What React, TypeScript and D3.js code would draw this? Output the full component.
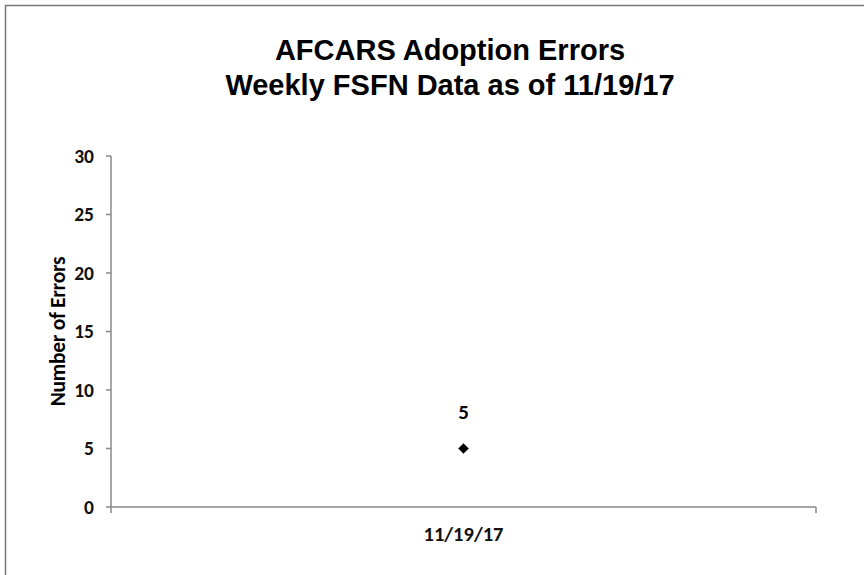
import React from "react";
import * as d3 from "d3";

// chart data
const categories = ["11/19/17"];
const errorCounts = [5];
const yTicks = [0, 5, 10, 15, 20, 25, 30];
const titleLines = ["AFCARS Adoption Errors", "Weekly FSFN Data as of 11/19/17"];

export default function App() {
    const width = 864;
    const height = 575;
    const plot = { left: 111, right: 816, top: 156, bottom: 507 };

    const x = d3.scaleBand().domain(categories).range([plot.left, plot.right]);
    const y = d3.scaleLinear().domain([0, 30]).range([plot.bottom, plot.top]);
    // square turned 45deg so the marker looks like Excel's diamond
    const marker = d3.symbol().type(d3.symbolSquare).size(52)();

    const axisColor = "#888";
    const labelFont = "Carlito, Calibri, Lato, sans-serif";

    return (
        <svg
            width={width}
            height={height}
            style={{ position: "absolute", left: 0, top: 0, background: "#fff" }}
        >
            {/* outer frame */}
            <rect x={5.5} y={5.5} width={width + 10} height={height + 10} fill="none" stroke="#777" strokeWidth={1.5} />

            {/* title */}
            {titleLines.map((t, i) => (
                <text
                    key={t}
                    x={450}
                    y={60 + i * 35}
                    textAnchor="middle"
                    fontFamily="Arial, 'Liberation Sans', sans-serif"
                    fontWeight="bold"
                    fontSize={29}
                    fill="#000"
                >
                    {t}
                </text>
            ))}

            {/* y axis */}
            <line x1={plot.left} x2={plot.left} y1={plot.top} y2={plot.bottom} stroke={axisColor} strokeWidth={1.5} />
            {yTicks.map((t) => (
                <g key={t}>
                    <line x1={plot.left - 5} x2={plot.left} y1={y(t)} y2={y(t)} stroke={axisColor} strokeWidth={1.5} />
                    <text
                        x={94}
                        y={y(t)}
                        dy="0.35em"
                        textAnchor="end"
                        fontFamily={labelFont}
                        fontWeight={600}
                        fontSize={19.5}
                        fill="#111"
                    >
                        {t}
                    </text>
                </g>
            ))}

            {/* x axis */}
            <line x1={plot.left} x2={plot.right} y1={plot.bottom} y2={plot.bottom} stroke={axisColor} strokeWidth={1.5} />
            {[plot.left, plot.right].map((px) => (
                <line key={px} x1={px} x2={px} y1={plot.bottom} y2={plot.bottom + 6} stroke={axisColor} strokeWidth={1.5} />
            ))}
            {categories.map((c) => (
                <text
                    key={c}
                    x={(x(c) || 0) + x.bandwidth() / 2}
                    y={541}
                    textAnchor="middle"
                    fontFamily={labelFont}
                    fontWeight="bold"
                    fontSize={20.5}
                    fill="#111"
                >
                    {c}
                </text>
            ))}

            {/* y axis title */}
            <text
                transform={`translate(65, ${(plot.top + plot.bottom) / 2}) rotate(-90)`}
                textAnchor="middle"
                fontFamily={labelFont}
                fontWeight="bold"
                fontSize={21.5}
                letterSpacing={-0.3}
                fill="#000"
            >
                Number of Errors
            </text>

            {/* data points with labels */}
            {categories.map((c, i) => {
                const cx = (x(c) || 0) + x.bandwidth() / 2;
                const cy = y(errorCounts[i]);
                return (
                    <g key={c}>
                        <path
                            d={marker || ""}
                            transform={`translate(${cx}, ${cy}) rotate(45)`}
                            fill="#000"
                            stroke="#243010"
                            strokeWidth={0.5}
                        />
                        <text
                            x={cx}
                            y={cy - 30}
                            textAnchor="middle"
                            fontFamily={labelFont}
                            fontWeight="bold"
                            fontSize={21}
                            fill="#000"
                        >
                            {errorCounts[i]}
                        </text>
                    </g>
                );
            })}
        </svg>
    );
}
